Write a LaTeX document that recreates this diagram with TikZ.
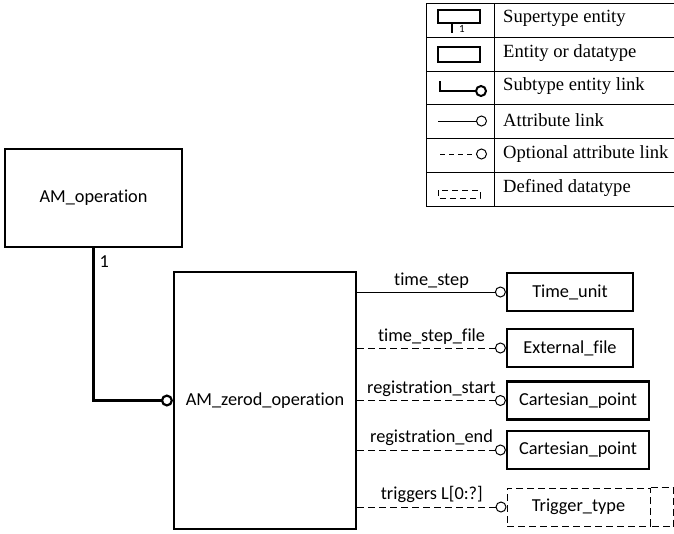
\documentclass[tikz,border=0pt]{standalone}
\usepackage{fontspec}
\setmainfont{Carlito}[Ligatures=NoCommon]
\newfontfamily\keyfont{Liberation Serif}
\usetikzlibrary{arrows.meta,positioning}
\tikzset{
  every node/.style={font=\fontsize{18.3}{21}\selectfont},
  entity/.style={draw, line width=2.2pt, minimum height=38pt, inner sep=0pt},
  datatype/.style={draw, line width=1pt, dash pattern=on 7pt off 4pt,
                   minimum height=38pt, inner sep=0pt},
  attr/.style={line width=1pt, -{Circle[open,length=11pt]}},
  optattr/.style={attr, dash pattern=on 7pt off 4pt},
  sublink/.style={line width=2.2pt, -{Circle[open,length=12pt]}},
  role/.style={above, inner sep=3.5pt},
  keyline/.style={line width=1pt},
}

\begin{document}
\begin{tikzpicture}[x=1pt,y=-1pt]
  \useasboundingbox (0,0) rectangle (674,533);

  % entities
  \node[entity, minimum width=177pt, minimum height=98pt] (op) at (93.5,198) {AM\_operation};
  \node[entity, minimum width=182pt, minimum height=257pt] (zerod) at (265,400.5) {AM\_zerod\_operation};

  % attribute types
  \node[entity, minimum width=126pt] (tu) at (570,292) {Time\_unit};
  \node[entity, minimum width=126pt] (ef) at (570,348) {External\_file};
  \node[entity, minimum width=142pt] (cp1) at (578,400.5) {Cartesian\_point};
  \node[entity, minimum width=142pt] (cp2) at (578,450) {Cartesian\_point};
  \node[datatype, minimum width=143pt] (tt) at (578.5,507) {Trigger\_type};
  \draw[datatype] (tt.north east) -| ([xshift=23pt]tt.south east) -- (tt.south east);

  % subtype link
  \draw[sublink] (op.south) |- (zerod.west);
  \node[anchor=west] (one) at (96,262) {1};

  % attribute links
  \draw[attr] (zerod.east |- tu.west) -- node[role] {time\_step} (tu.west);
  \draw[optattr] (zerod.east |- ef.west) -- node[role] {time\_step\_file} (ef.west);
  \draw[optattr] (zerod.east |- cp1.west) -- node[role] {registration\_start} (cp1.west);
  \draw[optattr] (zerod.east |- cp2.west) -- node[role] {registration\_end} (cp2.west);
  \draw[optattr] (zerod.east |- tt.west) -- node[role] {triggers L[0:?]} (tt.west);

  % key
  \foreach \y in {3,37,71,104,138,172,206}
    \draw[keyline] (426,\y) -- (676,\y);
  \draw[keyline] (426,3) -- (426,206);
  \draw[keyline] (494,3) -- (494,206);
  \foreach \txt [count=\i] in {Supertype entity, Entity or datatype,
      Subtype entity link, Attribute link, Optional attribute link, Defined datatype}
    \node[anchor=west, inner sep=0pt, font=\keyfont\fontsize{18.6}{21}\selectfont]
      (key\i) at (503,{3+33.8*\i-18}) {\txt};

  \draw[line width=2pt] (438,10) rectangle (480,23);
  \draw[line width=2pt] (452,23) -- (452,33);
  \node[font=\fontsize{11}{12}\selectfont, inner sep=0pt] (keyone) at (462,29) {1};
  \draw[line width=2pt] (438,47) rectangle (480,62);
  \draw[sublink, line width=2pt] (440,81) |- (487,91);
  \draw[attr] (438,121) -- (487,121);
  \draw[attr, dash pattern=on 5pt off 4pt] (440,154) -- (487,154);
  \draw[keyline, dash pattern=on 6pt off 4pt] (438,190) rectangle (480,198);
\end{tikzpicture}
\end{document}
